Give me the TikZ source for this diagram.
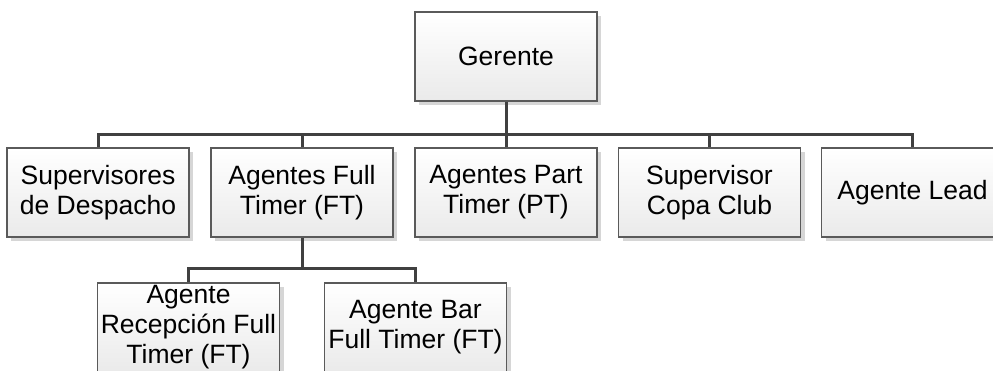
\documentclass[tikz,border=0pt]{standalone}
\usepackage{fontspec}
\setmainfont{Liberation Sans}
\usetikzlibrary{shadows}
\definecolor{boxline}{HTML}{5A5A5A}
\definecolor{linkline}{HTML}{404040}
\definecolor{boxlow}{HTML}{EAEAEA}
\definecolor{shade}{HTML}{D6D6D6}
\tikzset{
  orgbox/.style={rectangle, draw=boxline, line width=1.3pt,
    top color=white, bottom color=boxlow,
    minimum width=182pt, minimum height=89pt, inner sep=0pt,
    align=center, font=\fontsize{26.5pt}{30pt}\selectfont,
    drop shadow={shadow xshift=4pt, shadow yshift=-4pt, fill=shade, opacity=1}},
  link/.style={draw=linkline, line width=3pt}
}
\begin{document}
\begin{tikzpicture}[x=1pt, y=-1pt]
  \useasboundingbox (0,0) rectangle (993,370);
  \clip (0,0) rectangle (993,370);
  \fill[white] (0,0) rectangle (993,370);

  % top level
  \node[orgbox] (ger) at (506,56.5) {Gerente};

  % second level
  \node[orgbox] (sup) at (98,192.5) {Supervisores\\de Despacho};
  \node[orgbox] (aft) at (302,192.5) {Agentes Full\\Timer (FT)};
  \node[orgbox] (apt) at (506,192.5) {Agentes Part\\Timer (PT)};
  \node[orgbox] (scc) at (709.5,192.5) {Supervisor\\Copa Club};
  \node[orgbox] (ald) at (912.5,192.5) {Agente Lead};

  % third level
  \node[orgbox] (arf) at (188.5,327.5) {Agente\\Recepción Full\\Timer (FT)};
  \node[orgbox] (abf) at (415.5,327.5) {Agente Bar\\Full Timer (FT)};

  % connectors
  \coordinate (bus1) at (0,134);
  \coordinate (bus2) at (0,268);
  \draw[link] (ger.south) -- (ger.south |- bus1);
  \draw[link] (sup.north) -- (sup.north |- bus1) -- (ald.north |- bus1) -- (ald.north);
  \draw[link] (aft.north |- bus1) -- (aft.north);
  \draw[link] (apt.north |- bus1) -- (apt.north);
  \draw[link] (scc.north |- bus1) -- (scc.north);
  \draw[link] (aft.south) -- (aft.south |- bus2);
  \draw[link] (arf.north) -- (arf.north |- bus2) -- (abf.north |- bus2) -- (abf.north);
\end{tikzpicture}
\end{document}
